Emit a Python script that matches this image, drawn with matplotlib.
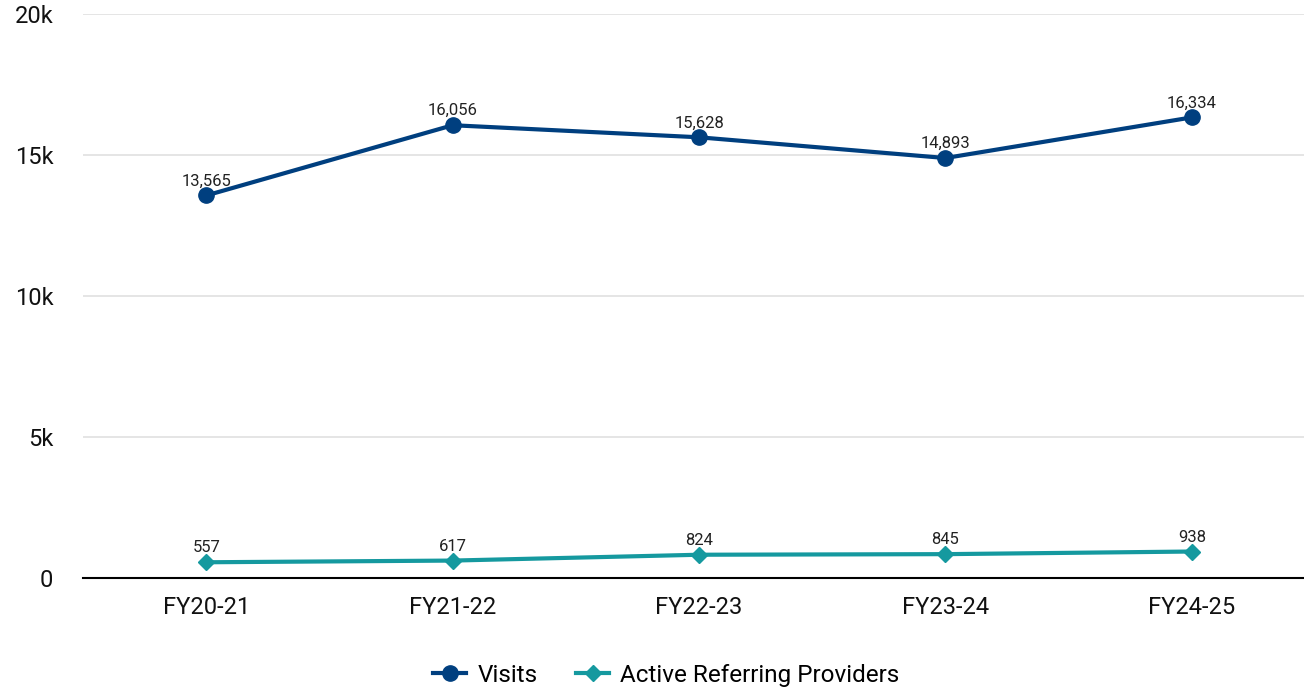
import matplotlib
matplotlib.use("Agg")
import matplotlib.pyplot as plt
from matplotlib.ticker import FuncFormatter

plt.rcParams['font.family'] = ['Roboto', 'DejaVu Sans']

categories = ["FY20-21", "FY21-22", "FY22-23", "FY23-24", "FY24-25"]
visits = [13565, 16056, 15628, 14893, 16334]
providers = [557, 617, 824, 845, 938]
y_ticks = [0, 5000, 10000, 15000, 20000]

c_visits = "#003f7f"
c_prov = "#15999f"

fig = plt.figure(figsize=(13.04, 6.87), dpi=100)
ax = fig.add_axes([0.0637, 0.1587, 0.9363, 0.8209])

x = list(range(len(categories)))
ax.plot(x, visits, color=c_visits, lw=3, marker='o', ms=11, label="Visits", zorder=3)
ax.plot(x, providers, color=c_prov, lw=3, marker='D', ms=8, label="Active Referring Providers", zorder=3)

for xi, v in zip(x, visits):
    ax.annotate(f"{v:,}", (xi, v), xytext=(0, 5), textcoords='offset points',
                ha='center', va='bottom', fontsize=12, color='#222222')
for xi, v in zip(x, providers):
    ax.annotate(f"{v:,}", (xi, v), xytext=(0, 5), textcoords='offset points',
                ha='center', va='bottom', fontsize=12, color='#222222')

ax.set_xlim(-0.5, 4.455)
ax.set_ylim(0, 20000)
ax.set_yticks(y_ticks)
ax.yaxis.set_major_formatter(FuncFormatter(lambda v, p: "0" if v == 0 else f"{int(v/1000)}k"))
ax.set_xticks(x)
ax.set_xticklabels(categories)
ax.tick_params(axis='both', length=0, labelsize=17, colors='#111111')
ax.tick_params(axis='y', pad=21.5)
ax.tick_params(axis='x', pad=13)

ax.grid(axis='y', color='#e0e0e0', lw=1.2, zorder=0)
ax.set_axisbelow(True)
for s in ['top', 'right', 'left']:
    ax.spines[s].set_visible(False)
ax.spines['bottom'].set_color('black')
ax.spines['bottom'].set_linewidth(1.5)
ax.spines['bottom'].set_zorder(2)

leg = fig.legend(loc='center', bbox_to_anchor=(0.511, 0.017), ncol=2, frameon=False,
                 fontsize=17.5, handlelength=1.35, columnspacing=1.6, handletextpad=0.45)

fig.savefig("out.png", dpi=100)
